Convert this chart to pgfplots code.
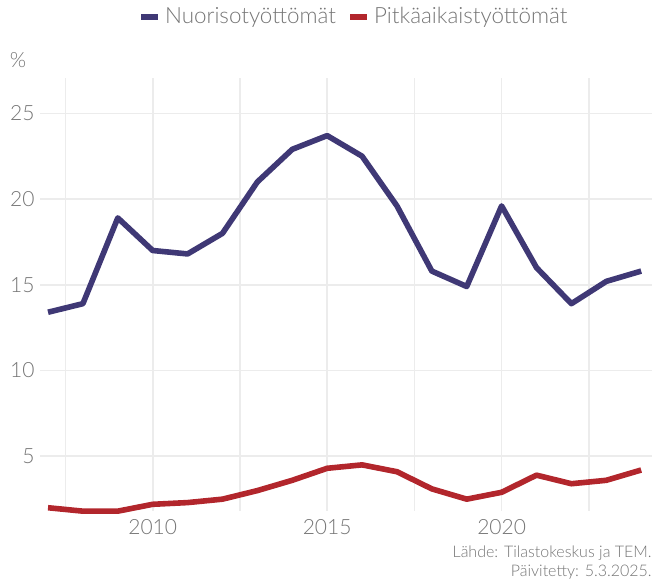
\documentclass[border=0pt]{standalone}
\usepackage{fontspec}
\IfFontExistsTF{Lato Light}{\setmainfont{Lato Light}}{\setmainfont{Lato}}
\usepackage{pgfplots}
\pgfplotsset{compat=1.18}
\definecolor{nuor}{HTML}{3F3875}
\definecolor{pitk}{HTML}{B2262C}
\definecolor{txt}{HTML}{757575}
\definecolor{grd}{HTML}{ECECEC}
\begin{document}
\begin{tikzpicture}
\begin{axis}[
  name=ax,
  scale only axis,
  width=306pt, height=216.5pt,
  xmin=2006.77, xmax=2024.31,
  ymin=1.81, ymax=27.06,
  clip=false,
  axis line style={draw=none},
  tick style={draw=none},
  major tick length=0pt, minor tick length=0pt,
  xtick={2010,2015,2020},
  minor xtick={2007.5,2012.5,2017.5,2022.5},
  ytick={5,10,15,20,25},
  xmajorgrids, xminorgrids, ymajorgrids,
  grid style={grd, line width=0.8pt},
  minor grid style={grd, line width=0.8pt},
  /pgf/number format/assume math mode=true,
  /pgf/number format/1000 sep={},
  tick label style={font=\fontsize{10.5}{12}\selectfont, text=txt, inner sep=0pt},
  yticklabel style={anchor=east, xshift=-2.5pt},
  xticklabel style={anchor=north, yshift=-4pt},
  legend columns=2,
  legend style={at={(0.515,1)}, anchor=center, yshift=30.5pt, draw=none, fill=none,
    font=\fontsize{11.2}{13}\selectfont, text=txt,
    /tikz/every even column/.append style={column sep=4pt}},
  legend image code/.code={\draw[#1, line width=2.6pt] (0pt,0pt) -- (8.5pt,0pt);},
]
\addplot[nuor, line width=2.8pt, line join=round] coordinates {
(2007,13.4) (2008,13.9) (2009,18.9) (2010,17.0) (2011,16.8) (2012,18.0)
(2013,21.0) (2014,22.9) (2015,23.7) (2016,22.5) (2017,19.6) (2018,15.8)
(2019,14.9) (2020,19.6) (2021,16.0) (2022,13.9) (2023,15.2) (2024,15.8)};
\addlegendentry{Nuorisotyöttömät}
\addplot[pitk, line width=2.8pt, line join=round] coordinates {
(2007,2.0) (2008,1.8) (2009,1.8) (2010,2.2) (2011,2.3) (2012,2.5)
(2013,3.0) (2014,3.6) (2015,4.3) (2016,4.5) (2017,4.1) (2018,3.1)
(2019,2.5) (2020,2.9) (2021,3.9) (2022,3.4) (2023,3.6) (2024,4.2)};
\addlegendentry{Pitkäaikaistyöttömät}
\node[anchor=center, text=txt, font=\fontsize{10.5}{12}\selectfont] at (rel axis cs:0,1) [xshift=-11pt, yshift=9pt] {\%};
\node[anchor=north east, align=right, text=txt, inner sep=0pt, font=\fontsize{8}{9.5}\selectfont] at (rel axis cs:1,0) [yshift=-17pt] {Lähde: Tilastokeskus ja TEM.\\Päivitetty: 5.3.2025.};
\end{axis}
\pgfresetboundingbox
\path ([xshift=-20pt,yshift=-35pt]ax.south west) rectangle ([yshift=39pt]ax.north east);
\end{tikzpicture}
\end{document}
